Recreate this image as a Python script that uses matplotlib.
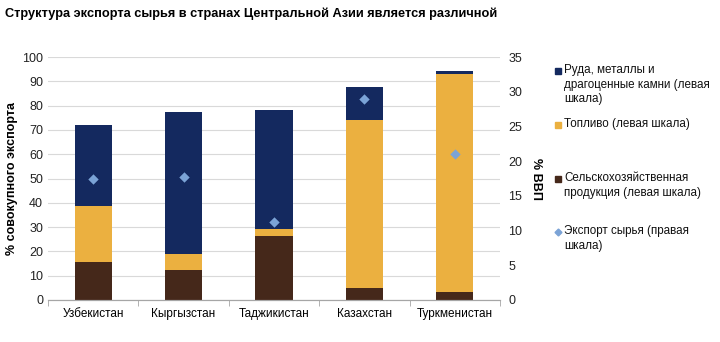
import matplotlib
matplotlib.use("Agg")
import matplotlib.pyplot as plt
import numpy as np
from matplotlib.lines import Line2D

plt.rcParams['font.family'] = ['Liberation Sans', 'DejaVu Sans']

countries = ["Узбекистан", "Кыргызстан", "Таджикистан", "Казахстан", "Туркменистан"]
agri = [15.5, 12.5, 26.5, 5.1, 3.2]
fuel = [23.0, 6.3, 2.8, 68.9, 89.8]
ores = [33.5, 58.4, 48.7, 13.5, 1.2]
raw_gdp = [17.5, 17.7, 11.2, 29.0, 21.0]

legend_labels = [
    "Руда, металлы и\nдрагоценные камни (левая\nшкала)",
    "Топливо (левая шкала)",
    "Сельскохозяйственная\nпродукция (левая шкала)",
    "Экспорт сырья (правая\nшкала)",
]

c_ores = "#14295F"
c_fuel = "#EBB040"
c_agri = "#45281A"
c_dot = "#7BA3D6"

fig = plt.figure(figsize=(7.2, 3.42), dpi=100)
ax = fig.add_axes([48/720, 42/342, 452/720, 243/342])
ax2 = ax.twinx()

x = np.arange(len(countries))
w = 0.41
agri = np.array(agri); fuel = np.array(fuel); ores = np.array(ores)
ax.bar(x, agri, w, color=c_agri, zorder=2)
ax.bar(x, fuel, w, bottom=agri, color=c_fuel, zorder=2)
ax.bar(x, ores, w, bottom=agri + fuel, color=c_ores, zorder=2)
ax2.scatter(x, raw_gdp, marker="D", s=28, color=c_dot, zorder=3, linewidths=0)

ax.set_xlim(-0.5, 4.5)
ax.set_ylim(0, 100)
ax.set_yticks(range(0, 101, 10))
ax2.set_ylim(0, 35)
ax2.set_yticks(range(0, 36, 5))
ax.yaxis.grid(True, color="#D9D9D9", linewidth=0.8, zorder=0)
ax.set_axisbelow(True)

ax.set_xticks(x)
ax.set_xticklabels(countries, fontsize=8.5)
ax.set_xticks(np.arange(-0.5, 5, 1), minor=True)
ax.tick_params(axis="x", which="major", length=0, pad=6)
ax.tick_params(axis="x", which="minor", length=4, color="#A6A6A6")
ax.tick_params(axis="y", length=0, labelsize=9, colors="#222222")
ax2.tick_params(axis="y", length=0, labelsize=9, colors="#222222", pad=6)

for a in (ax, ax2):
    for s in ("top", "left", "right"):
        a.spines[s].set_visible(False)
    a.spines["bottom"].set_color("#A6A6A6")

ax.set_ylabel("% совокупного экспорта", fontsize=9, fontweight="bold", labelpad=3)
ax2.set_ylabel("% ВВП", fontsize=9, fontweight="bold", rotation=270, labelpad=14)

fig.text(5/720, 1 - 14/342, "Структура экспорта сырья в странах Центральной Азии является различной",
         fontsize=9.2, fontweight="bold", va="center")

# legend drawn entry by entry to match the spaced-out layout
handles = [
    Line2D([0], [0], marker="s", color=c_ores, linestyle="none", markersize=4.5),
    Line2D([0], [0], marker="s", color=c_fuel, linestyle="none", markersize=4.5),
    Line2D([0], [0], marker="s", color=c_agri, linestyle="none", markersize=4.5),
    Line2D([0], [0], marker="D", color=c_dot, linestyle="none", markersize=3.5),
]
tops = [64, 118, 172, 225]
for h, lab, ty in zip(handles, legend_labels, tops):
    yy = 1 - (ty + 7) / 342
    fig.lines.append(Line2D([558/720], [yy], transform=fig.transFigure,
                            marker=h.get_marker(), color=h.get_color(),
                            markersize=h.get_markersize(), linestyle="none"))
    fig.text(564/720, 1 - ty/342, lab, fontsize=8.4, va="top", ha="left",
             linespacing=1.3, color="#111111")

fig.savefig("out.png", dpi=100)
